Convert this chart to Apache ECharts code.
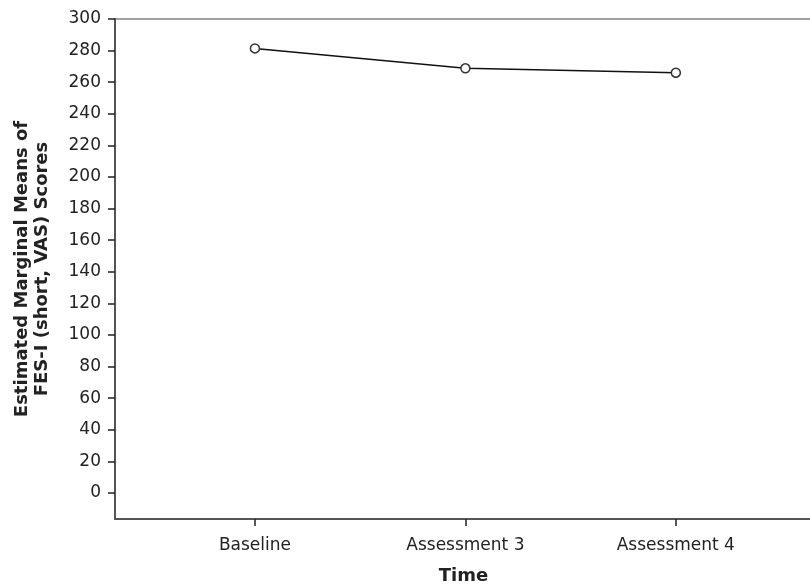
<!DOCTYPE html>
<html>
<head>
<meta charset="utf-8">
<script src="https://cdn.jsdelivr.net/npm/echarts@6/dist/echarts.min.js"></script>
<style>
  html, body { margin: 0; padding: 0; background: #fff; }
  #chart { width: 810px; height: 587px; }
</style>
</head>
<body>
<div id="chart"></div>
<script>
// Time points and estimated marginal means
const categories = ['Baseline', 'Assessment 3', 'Assessment 4'];
const means = [281.4, 268.8, 266.0];
const yTicks = [0, 20, 40, 60, 80, 100, 120, 140, 160, 180, 200, 220, 240, 260, 280, 300];

const FONT = 'DejaVu Sans';
const chart = echarts.init(document.getElementById('chart'), null, { renderer: 'canvas' });

const points = means.map((v, i) => [i, v]);
const catIdx = categories.map((c, i) => i);

chart.setOption({
  animation: false,
  backgroundColor: '#ffffff',
  grid: {
    left: 115, top: 19, right: -2, bottom: 68,
    outerBoundsMode: 'none',
    containLabel: false,
    show: true, borderColor: '#444', borderWidth: 1
  },
  xAxis: {
    type: 'value',
    min: -0.665, max: 2.647,
    name: 'Time',
    nameLocation: 'middle',
    nameGap: 48,
    nameTextStyle: { fontFamily: FONT, fontWeight: 'bold', fontSize: 18, color: '#222' },
    axisLine: { show: true, onZero: false, lineStyle: { color: '#555', width: 2 } },
    axisTick: { show: true, length: 7, customValues: catIdx, lineStyle: { color: '#222', width: 1.5 } },
    axisLabel: {
      customValues: catIdx,
      margin: 18,
      fontFamily: FONT, fontSize: 17, color: '#222',
      formatter: v => categories[Math.round(v)] || ''
    },
    splitLine: { show: false }
  },
  yAxis: {
    type: 'value',
    min: -16.5, max: 300,
    name: 'Estimated Marginal Means of\nFES-I (short, VAS) Scores',
    nameLocation: 'middle',
    nameGap: 63,
    nameTextStyle: { fontFamily: FONT, fontWeight: 'bold', fontSize: 18, color: '#222', lineHeight: 20 },
    axisLine: { show: true, onZero: false, lineStyle: { color: '#555', width: 2 } },
    axisTick: { show: true, length: 7, customValues: yTicks, lineStyle: { color: '#222', width: 1.5 } },
    axisLabel: {
      customValues: yTicks,
      margin: 14,
      fontFamily: FONT, fontSize: 17, color: '#222'
    },
    splitLine: { show: false }
  },
  series: [{
    type: 'line',
    data: points,
    symbol: 'circle',
    symbolSize: 9,
    itemStyle: { color: '#fff', borderColor: '#333', borderWidth: 1.5 },
    lineStyle: { color: '#111', width: 1.5 }
  }]
});
</script>
</body>
</html>
